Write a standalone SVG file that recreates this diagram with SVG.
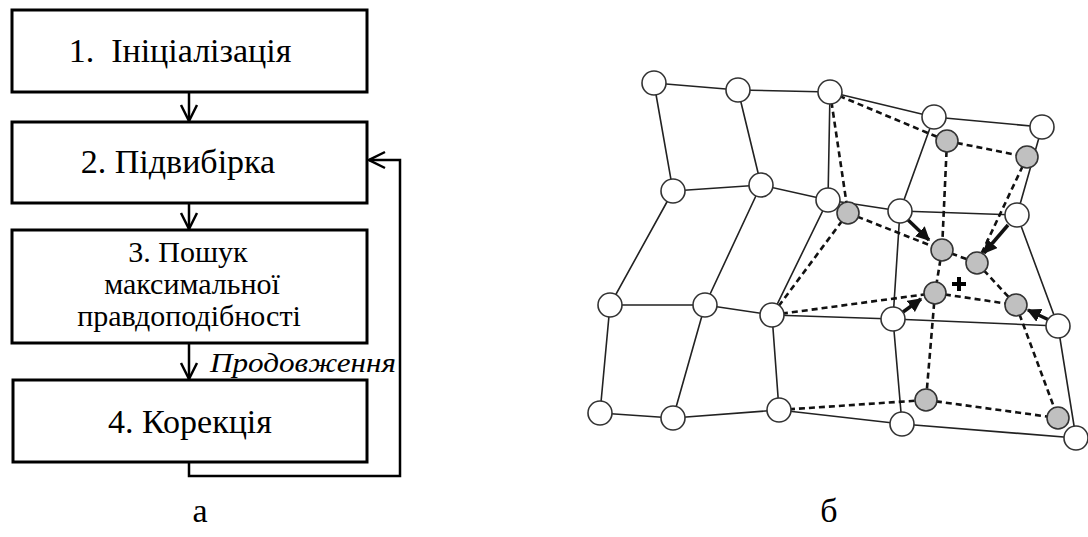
<svg xmlns="http://www.w3.org/2000/svg" width="1088" height="537" viewBox="0 0 1088 537">
<defs>
<style>
text{font-family:'Liberation Serif','Times New Roman','DejaVu Serif',serif}
.box{fill:#fff;stroke:#000;stroke-width:3}
.t{font-size:34px;fill:#000;text-anchor:middle}
.t3{font-size:30px;fill:#000;text-anchor:middle}
.it{font-size:28px;font-style:italic;fill:#000}
.fl{fill:none;stroke:#000;stroke-width:2.5}
.s{stroke:#222;stroke-width:1.6;fill:none}
.d{stroke:#111;stroke-width:2.6;stroke-dasharray:6 4;fill:none}
.w{fill:#fff;stroke:#333;stroke-width:1.6}
.g{fill:#c0c0c0;stroke:#333;stroke-width:1.6}
.ar{stroke:#111;stroke-width:3.5;fill:none;marker-end:url(#ah)}
</style>
<marker id="open" viewBox="0 0 20 20" refX="18" refY="10" markerWidth="20" markerHeight="20" markerUnits="userSpaceOnUse" orient="auto">
<path d="M2,2 L18,10 L2,18" fill="none" stroke="#000" stroke-width="2.5"/>
</marker>
<marker id="ah" viewBox="0 0 10 10" refX="9" refY="5" markerWidth="4" markerHeight="4" orient="auto">
<path d="M0,0 L10,5 L0,10 Z" fill="#111"/>
</marker>
</defs>
<rect width="1088" height="537" fill="#fff"/>

<g id="connectors-flow">
<line class="fl" x1="189" y1="92" x2="189" y2="121" marker-end="url(#open)"/>
<line class="fl" x1="189" y1="203" x2="189" y2="229" marker-end="url(#open)"/>
<line class="fl" x1="189" y1="343" x2="189" y2="379" marker-end="url(#open)"/>
<polyline class="fl" points="189,462 189,476 400,476 400,160 369,160" marker-end="url(#open)"/>
<text class="it" x="210" y="372" textLength="186" lengthAdjust="spacingAndGlyphs">Продовження</text>
</g>

<g id="box1"><rect class="box" x="12" y="10" width="355" height="82"/><text class="t" x="180" y="62" xml:space="preserve">1.  Ініціалізація</text></g>
<g id="box2"><rect class="box" x="12" y="122" width="355" height="81"/><text class="t" x="178" y="173">2. Підвибірка</text></g>
<g id="box3"><rect class="box" x="12" y="230" width="355" height="113"/><text class="t3" x="188" y="262">3. Пошук</text><text class="t3" x="192" y="294">максимальної</text><text class="t3" x="189" y="326">правдоподібності</text></g>
<g id="box4"><rect class="box" x="13" y="380" width="354" height="82"/><text class="t" x="190" y="433">4. Корекція</text></g>

<text class="t" x="200" y="522">а</text>
<text class="t" x="829" y="522">б</text>

<g id="mesh-connectors">
<polyline class="s" points="654,83 738,90 830,92 934,117 1042,127"/>
<polyline class="s" points="673,191 761,185 828,200 900,211 1017,215"/>
<polyline class="s" points="610,305 705,305 772,315 893,319 1058,326"/>
<polyline class="s" points="600,413 673,418 779,410 902,424 1076,438"/>
<polyline class="s" points="654,83 673,191 610,305 600,413"/>
<polyline class="s" points="738,90 761,185 705,305 673,418"/>
<polyline class="s" points="830,92 828,200 772,315 779,410"/>
<polyline class="s" points="934,117 900,211 893,319 902,424"/>
<polyline class="s" points="1042,127 1017,215 1058,326 1076,438"/>
<line class="d" x1="830" y1="92" x2="947" y2="141"/>
<line class="d" x1="947" y1="141" x2="1027" y2="157"/>
<line class="d" x1="830" y1="92" x2="848" y2="213"/>
<line class="d" x1="947" y1="141" x2="942" y2="250"/>
<line class="d" x1="1027" y1="157" x2="977" y2="263"/>
<line class="d" x1="848" y1="213" x2="942" y2="250"/>
<line class="d" x1="942" y1="250" x2="977" y2="263"/>
<line class="d" x1="848" y1="213" x2="772" y2="315"/>
<line class="d" x1="942" y1="250" x2="935" y2="293"/>
<line class="d" x1="977" y1="263" x2="1016" y2="305"/>
<line class="d" x1="772" y1="315" x2="935" y2="293"/>
<line class="d" x1="935" y1="293" x2="1016" y2="305"/>
<line class="d" x1="935" y1="293" x2="926" y2="400"/>
<line class="d" x1="1016" y1="305" x2="1058" y2="418"/>
<line class="d" x1="779" y1="410" x2="926" y2="400"/>
<line class="d" x1="926" y1="400" x2="1058" y2="418"/>
<line class="ar" x1="906" y1="218" x2="929" y2="240"/>
<line class="ar" x1="1008" y1="225" x2="984" y2="253"/>
<line class="ar" x1="903" y1="312" x2="921" y2="299"/>
<line class="ar" x1="1049" y1="320" x2="1028" y2="310"/>
</g>

<g id="mesh-nodes">
<circle class="w" cx="654" cy="83" r="12"/>
<circle class="w" cx="738" cy="90" r="12"/>
<circle class="w" cx="830" cy="92" r="12"/>
<circle class="w" cx="934" cy="117" r="12"/>
<circle class="w" cx="1042" cy="127" r="12"/>
<circle class="w" cx="673" cy="191" r="12"/>
<circle class="w" cx="761" cy="185" r="12"/>
<circle class="w" cx="828" cy="200" r="12"/>
<circle class="w" cx="900" cy="211" r="12"/>
<circle class="w" cx="1017" cy="215" r="12"/>
<circle class="w" cx="610" cy="305" r="12"/>
<circle class="w" cx="705" cy="305" r="12"/>
<circle class="w" cx="772" cy="315" r="12"/>
<circle class="w" cx="893" cy="319" r="12"/>
<circle class="w" cx="1058" cy="326" r="12"/>
<circle class="w" cx="600" cy="413" r="12"/>
<circle class="w" cx="673" cy="418" r="12"/>
<circle class="w" cx="779" cy="410" r="12"/>
<circle class="w" cx="902" cy="424" r="12"/>
<circle class="w" cx="1076" cy="438" r="12"/>
<circle class="g" cx="848" cy="213" r="11"/>
<circle class="g" cx="947" cy="141" r="11"/>
<circle class="g" cx="1027" cy="157" r="11"/>
<circle class="g" cx="942" cy="250" r="11"/>
<circle class="g" cx="977" cy="263" r="11"/>
<circle class="g" cx="935" cy="293" r="11"/>
<circle class="g" cx="1016" cy="305" r="11"/>
<circle class="g" cx="926" cy="400" r="11"/>
<circle class="g" cx="1058" cy="418" r="11"/>
<path d="M959,277 V291 M952,284 H966" stroke="#000" stroke-width="4"/>
</g>
</svg>
